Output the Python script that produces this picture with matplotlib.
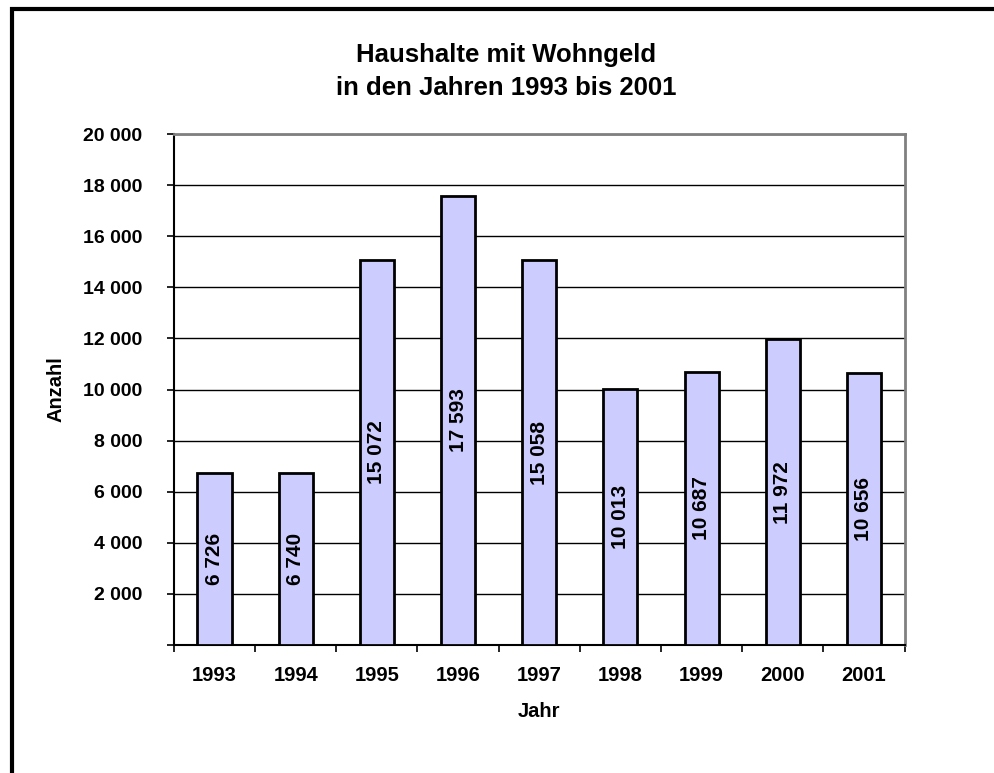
import matplotlib.pyplot as plt
from matplotlib.patches import Rectangle
from matplotlib.ticker import FuncFormatter, MultipleLocator

plt.rcParams['font.family'] = ['Liberation Sans', 'DejaVu Sans']
plt.rcParams['font.weight'] = 'bold'

# Daten
jahre = ['1993', '1994', '1995', '1996', '1997', '1998', '1999', '2000', '2001']
haushalte = [6726, 6740, 15072, 17593, 15058, 10013, 10687, 11972, 10656]


def tausender(v):
    return f'{int(v):,}'.replace(',', ' ')


fig = plt.figure(figsize=(9.94, 7.73), dpi=100)
ax = fig.add_axes([0.175, 0.1656, 0.735, 0.661])

x = range(len(jahre))
ax.bar(x, haushalte, width=0.42, color='#CCCCFF', edgecolor='black', linewidth=2, zorder=3)

# Werte in den Balken
for i, v in enumerate(haushalte):
    ax.text(i, v / 2, tausender(v), rotation=90, ha='center', va='center',
            fontsize=15, fontweight='bold', zorder=4)

ax.set_xlim(-0.5, len(jahre) - 0.5)
ax.set_ylim(0, 20000)
ax.yaxis.set_major_locator(MultipleLocator(2000))
ax.yaxis.set_major_formatter(FuncFormatter(lambda v, p: '' if v == 0 else tausender(v)))
ax.grid(axis='y', color='black', linewidth=1, zorder=0)

ax.set_xticks([i - 0.5 for i in range(len(jahre) + 1)])
ax.set_xticklabels([])
ax.set_xticks(list(x), minor=True)
ax.set_xticklabels(jahre, minor=True, fontsize=14.5, fontweight='bold')
ax.tick_params(axis='x', which='minor', length=0, pad=15)
ax.tick_params(axis='x', which='major', length=5, width=1.2, direction='out')
ax.tick_params(axis='y', length=5, width=1.2, direction='out', labelsize=14, pad=18)
for lbl in ax.get_yticklabels():
    lbl.set_fontweight('bold')

ax.spines['top'].set_color('gray')
ax.spines['right'].set_color('gray')
ax.spines['top'].set_linewidth(2)
ax.spines['right'].set_linewidth(2)
ax.spines['left'].set_linewidth(1.5)
ax.spines['bottom'].set_linewidth(1.5)

ax.set_xlabel('Jahr', fontsize=14.5, fontweight='bold')
ax.set_ylabel('Anzahl', fontsize=14.5, fontweight='bold')
ax.xaxis.set_label_coords(0.5, -0.112)
ax.yaxis.set_label_coords(-0.149, 0.5)

# Titel (zwei Zeilen)
fig.text(0.509, 0.9198, 'Haushalte mit Wohngeld', ha='center', va='baseline',
         fontsize=18.5, fontweight='bold')
fig.text(0.509, 0.8771, 'in den Jahren 1993 bis 2001', ha='center', va='baseline',
         fontsize=18.5, fontweight='bold')

# Rahmen um das Diagramm
fig.patches.append(Rectangle((0.012, -0.1), 1.2, 1.088, transform=fig.transFigure,
                             fill=False, edgecolor='black', linewidth=3))

fig.savefig('out.png', dpi=100)
